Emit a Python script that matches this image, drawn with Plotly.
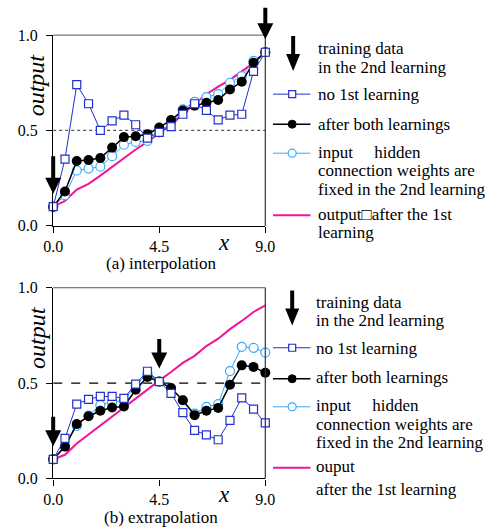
import plotly.graph_objects as go

# ---------------- data ----------------
X = [0.0, 0.5, 1.0, 1.5, 2.0, 2.5, 3.0, 3.5, 4.0, 4.5, 5.0, 5.5, 6.0, 6.5, 7.0, 7.5, 8.0, 8.5, 9.0]

# (a) interpolation
A_NO_FIRST = [0.10, 0.35, 0.74, 0.64, 0.50, 0.55, 0.58, 0.53, 0.46, 0.49, 0.52, 0.585, 0.64, 0.605, 0.555, 0.58, 0.585, 0.81, 0.91]
A_BOTH = [0.10, 0.18, 0.34, 0.345, 0.355, 0.41, 0.465, 0.47, 0.48, 0.515, 0.555, 0.605, 0.63, 0.645, 0.66, 0.715, 0.755, 0.855, 0.91]
A_FIXED = [0.10, 0.16, 0.29, 0.30, 0.31, 0.365, 0.425, 0.44, 0.445, 0.49, 0.54, 0.61, 0.65, 0.675, 0.69, 0.75, 0.785, 0.865, 0.91]
A_AFTER1 = [0.10, 0.13, 0.19, 0.22, 0.263, 0.31, 0.355, 0.40, 0.44, 0.485, 0.535, 0.585, 0.64, 0.69, 0.73, 0.765, 0.81, 0.855, 0.91]
A_TRAIN_X = [0.0, 9.0]

# (b) extrapolation
B_NO_FIRST = [0.10, 0.21, 0.39, 0.415, 0.43, 0.43, 0.42, 0.495, 0.562, 0.508, 0.446, 0.345, 0.252, 0.228, 0.203, 0.305, 0.423, 0.363, 0.291]
B_BOTH = [0.10, 0.167, 0.285, 0.326, 0.355, 0.372, 0.377, 0.465, 0.532, 0.508, 0.474, 0.41, 0.332, 0.355, 0.37, 0.491, 0.593, 0.585, 0.554]
B_FIXED = [0.10, 0.17, 0.275, 0.33, 0.385, 0.40, 0.41, 0.487, 0.55, 0.508, 0.47, 0.41, 0.34, 0.375, 0.39, 0.563, 0.69, 0.685, 0.66]
B_AFTER1 = [0.10, 0.124, 0.183, 0.23, 0.281, 0.327, 0.372, 0.42, 0.465, 0.513, 0.558, 0.606, 0.643, 0.694, 0.733, 0.783, 0.826, 0.873, 0.907]
B_TRAIN_X = [0.0, 4.5]

REF_LEVEL = 0.5
X_RANGE = [0.0, 9.0]
X_TICKS = [0.0, 4.5, 9.0]
X_TICKTEXT = ["0.0", "4.5", "9.0"]
Y_TICKS = [0.0, 0.5, 1.0]
Y_TICKTEXT = ["0.0", "0.5", "1.0"]

LEGEND_A = ["training data", "in the 2nd learning", "no 1st learning", "after both learnings",
            "input\u00a0\u00a0\u00a0\u00a0 hidden", "connection weights are", "fixed in the 2nd learning",
            "output\u25a1after the 1st", "learning"]
LEGEND_B = ["training data", "in the 2nd learning", "no 1st learning", "after both learnings",
            "input\u00a0\u00a0\u00a0\u00a0 hidden", "connection weights are", "fixed in the 2nd learning",
            "ouput", "after the 1st learning"]
CAPTIONS = ["(a) interpolation", "(b) extrapolation"]

# ---------------- style ----------------
W, H = 498, 531
SERIF = "Liberation Serif"
BLUE = "#2230cc"
CYAN = "#33aaff"
MAGENTA = "#f0149a"
BLACK = "#000000"
TXT = 17

def px(x):
    return x / W

def py(y):
    return 1 - y / H

# plot areas in pixels: left, right, top, bottom
PLOTS = [(45, 266, 28, 225), (45, 266, 289, 486)]

fig = go.Figure()

datasets = [
    (A_NO_FIRST, A_BOTH, A_FIXED, A_AFTER1, A_TRAIN_X),
    (B_NO_FIRST, B_BOTH, B_FIXED, B_AFTER1, B_TRAIN_X),
]

shapes = []
annotations = []

def arrow_path(g, length, hl=17, hw=14, sw=4):
    return (f"M 0 {g} L {hw/2} {g+hl} L {sw/2} {g+hl} L {sw/2} {g+length} "
            f"L {-sw/2} {g+length} L {-sw/2} {g+hl} L {-hw/2} {g+hl} Z")

arrow_lengths = [[52, 46], [44, 44]]

for i, (nofirst, both, fixed, after1, trainx) in enumerate(datasets):
    xa = "x" if i == 0 else "x2"
    ya = "y" if i == 0 else "y2"
    dash = "dot" if i == 0 else "dash"
    dcol = "#555555" if i == 0 else "#000000"
    fig.add_trace(go.Scatter(x=X_RANGE, y=[REF_LEVEL, REF_LEVEL], mode="lines",
                             line=dict(color=dcol, width=1.2, dash=dash),
                             xaxis=xa, yaxis=ya, showlegend=False, hoverinfo="skip"))
    fig.add_trace(go.Scatter(x=X, y=after1, mode="lines", line=dict(color=MAGENTA, width=2),
                             xaxis=xa, yaxis=ya, showlegend=False, cliponaxis=False))
    fig.add_trace(go.Scatter(x=X, y=fixed, mode="lines+markers", line=dict(color=CYAN, width=1),
                             marker=dict(symbol="circle", size=9, color="white",
                                         line=dict(color=CYAN, width=1.2)),
                             xaxis=xa, yaxis=ya, showlegend=False, cliponaxis=False))
    fig.add_trace(go.Scatter(x=X, y=both, mode="lines+markers", line=dict(color=BLACK, width=1.5),
                             marker=dict(symbol="circle", size=10, color=BLACK),
                             xaxis=xa, yaxis=ya, showlegend=False, cliponaxis=False))
    fig.add_trace(go.Scatter(x=X, y=nofirst, mode="lines+markers", line=dict(color=BLUE, width=1),
                             marker=dict(symbol="square", size=8, color="white",
                                         line=dict(color=BLUE, width=1.2)),
                             xaxis=xa, yaxis=ya, showlegend=False, cliponaxis=False))

    # frame: top & right lines
    dom_x = xa + " domain"
    dom_y = ya + " domain"
    shapes.append(dict(type="line", xref=dom_x, yref=dom_y, x0=0, x1=1, y0=1, y1=1,
                       line=dict(color="#555555", width=1)))
    shapes.append(dict(type="line", xref=dom_x, yref=dom_y, x0=1, x1=1, y0=0, y1=1,
                       line=dict(color="#333333", width=1.2)))

    # training-data arrows (annotation arrows pointing at the training points)
    for k, tx in enumerate(trainx):
        ty = both[X.index(tx)]
        annotations.append(dict(x=tx, y=ty, xref=xa, yref=ya, text="", showarrow=True,
                                ax=0, ay=-arrow_lengths[i][k], axref="pixel", ayref="pixel",
                                arrowhead=2, arrowsize=0.8, arrowwidth=4, arrowcolor="black",
                                standoff=13))

    L, R, T, B = PLOTS[i]
    # y-axis title
    annotations.append(dict(text="output", textangle=-90, x=px(28), y=py(T + 51),
                            xref="paper", yref="paper", showarrow=False, xanchor="center", yanchor="middle",
                            font=dict(family=SERIF, size=24, style="italic", color="black")))
    # x-axis title
    annotations.append(dict(text="x", x=px(223), y=py(B + 17), xref="paper", yref="paper",
                            showarrow=False, xanchor="center", yanchor="middle",
                            font=dict(family=SERIF, size=23, style="italic", color="black")))
    # caption
    annotations.append(dict(text=CAPTIONS[i], x=px(157), y=py(B + 39 if i == 0 else B + 40),
                            xref="paper", yref="paper", showarrow=False, xanchor="center", yanchor="middle",
                            font=dict(family=SERIF, size=TXT, color="black")))

# ---------------- manual legends ----------------
legend_specs = [
    dict(lines=LEGEND_A, tx=319, ax=295, arrow_top=30, arrow_tip=65,
         ys=[42, 61, 89, 120, 149, 168, 187, 213, 232], sample_y=[89, 120, 150, 214]),
    dict(lines=LEGEND_B, tx=317, ax=294, arrow_top=293, arrow_tip=328,
         ys=[304, 323, 352, 382, 411, 430, 449, 474, 497], sample_y=[351, 383, 412, 475]),
]

for spec in legend_specs:
    for txt, yy in zip(spec["lines"], spec["ys"]):
        annotations.append(dict(text=txt, x=px(spec["tx"]), y=py(yy), xref="paper", yref="paper",
                                xanchor="left", yanchor="middle", showarrow=False,
                                font=dict(family=SERIF, size=TXT, color="black")))
    # arrow
    shapes.append(dict(type="path", xref="paper", yref="paper", xsizemode="pixel", ysizemode="pixel",
                       xanchor=px(spec["ax"]), yanchor=py(spec["arrow_tip"]),
                       path=arrow_path(0, spec["arrow_tip"] - spec["arrow_top"]),
                       fillcolor="black", line=dict(width=0)))
    cols = [BLUE, BLACK, CYAN, MAGENTA]
    widths = [1, 1.5, 1, 2]
    for j, (c, sy) in enumerate(zip(cols, spec["sample_y"])):
        shapes.append(dict(type="line", xref="paper", yref="paper", x0=px(274), x1=px(313),
                           y0=py(sy), y1=py(sy), line=dict(color=c, width=widths[j])))
    cx = px(294)
    s0, s1, s2 = spec["sample_y"][:3]
    shapes.append(dict(type="rect", xref="paper", yref="paper", xsizemode="pixel", ysizemode="pixel",
                       xanchor=cx, yanchor=py(s0), x0=-3.5, x1=3.5, y0=-3.5, y1=3.5,
                       fillcolor="white", line=dict(color=BLUE, width=1.2)))
    shapes.append(dict(type="circle", xref="paper", yref="paper", xsizemode="pixel", ysizemode="pixel",
                       xanchor=cx, yanchor=py(s1), x0=-4, x1=4, y0=-4, y1=4,
                       fillcolor="black", line=dict(color="black", width=1)))
    shapes.append(dict(type="circle", xref="paper", yref="paper", xsizemode="pixel", ysizemode="pixel",
                       xanchor=cx, yanchor=py(s2), x0=-4, x1=4, y0=-4, y1=4,
                       fillcolor="white", line=dict(color=CYAN, width=1.2)))

axis_common = dict(showgrid=False, zeroline=False, showline=True, linecolor="black", linewidth=1.3,
                   ticks="outside", ticklen=6, tickcolor="black", tickwidth=1.3,
                   tickfont=dict(family=SERIF, size=16, color="black"))

def xdom(L, R):
    return [px(L), px(R)]

fig.update_layout(
    width=W, height=H, margin=dict(l=0, r=0, t=0, b=0),
    paper_bgcolor="white", plot_bgcolor="white", showlegend=False,
    font=dict(family=SERIF, color="black"),
    xaxis=dict(domain=xdom(45, 266), range=X_RANGE, tickvals=X_TICKS, ticktext=X_TICKTEXT,
               anchor="y", **axis_common),
    yaxis=dict(domain=[py(225), py(28)], range=[0, 1], tickvals=Y_TICKS, ticktext=Y_TICKTEXT,
               anchor="x", ticklabelstandoff=5, **axis_common),
    xaxis2=dict(domain=xdom(45, 266), range=X_RANGE, tickvals=X_TICKS, ticktext=X_TICKTEXT,
                anchor="y2", **axis_common),
    yaxis2=dict(domain=[py(486), py(289)], range=[0, 1], tickvals=Y_TICKS, ticktext=Y_TICKTEXT,
                anchor="x2", ticklabelstandoff=5, **axis_common),
    shapes=shapes, annotations=annotations,
)

fig.write_html("out.html")
